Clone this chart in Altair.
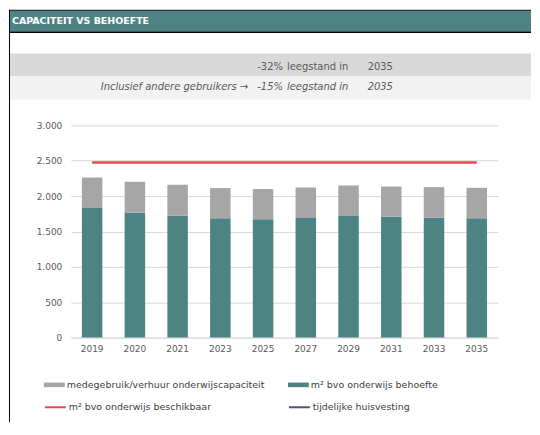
import altair as alt
import pandas as pd

FONT = "DejaVu Sans"

# ---- data ----
jaren = ["2019", "2020", "2021", "2023", "2025", "2027", "2029", "2031", "2033", "2035"]
behoefte = [1831, 1769, 1722, 1685, 1671, 1690, 1718, 1708, 1694, 1685]
medegebruik = [431, 432, 437, 428, 428, 431, 432, 427, 432, 432]
beschikbaar = [2475, 2475, 2475, 2475, 2475, 2475, 2475, 2475, 2475, 2475]
tijdelijk = []  # geen waarden

series = [
    "medegebruik/verhuur onderwijscapaciteit",
    "m² bvo onderwijs behoefte",
    "m² bvo onderwijs beschikbaar",
    "tijdelijke huisvesting",
]
kleuren = ["#a6a6a6", "#4e8384", "#e8474e", "#604a7b"]
y_ticks = [0, 500, 1000, 1500, 2000, 2500, 3000]

titel = "CAPACITEIT VS BEHOEFTE"
rij1 = ["", "-32%", "leegstand in", "2035"]
rij2 = ["Inclusief andere gebruikers →", "-15%", "leegstand in", "2035"]

# ---- tables ----
df_mede = pd.DataFrame({
    "jaar": jaren,
    "onder": behoefte,
    "boven": [b + m for b, m in zip(behoefte, medegebruik)],
    "serie": series[0],
})
df_beh = pd.DataFrame({"jaar": jaren, "waarde": behoefte, "serie": series[1]})
df_besch = pd.DataFrame({"jaar": jaren, "waarde": beschikbaar, "serie": series[2]})
df_tijd = pd.DataFrame({"jaar": pd.Series(tijdelijk, dtype=str),
                        "waarde": pd.Series(tijdelijk, dtype=float),
                        "serie": pd.Series(tijdelijk, dtype=str)})

W, H = 429, 213

xscale = alt.Scale(domain=jaren, paddingInner=0.52, paddingOuter=0.26)
yscale = alt.Scale(domain=[0, 3000])
xaxis = alt.Axis(title=None, labelAngle=0, grid=False, domain=True, domainColor="#d9d9d9",
                 ticks=False, labelPadding=7)
yaxis = alt.Axis(title=None, values=y_ticks, format=",d",
                 labelExpr="replace(datum.label, ',', '.')",
                 grid=True, gridColor="#d9d9d9", domain=False, ticks=False, labelPadding=9)

RECT_PATH = "M-1,-0.22H1V0.22H-1Z"


def legend(x, y, sym):
    kw = dict(orient="none", legendX=x, legendY=y, title=None, padding=0,
              labelFont=FONT, labelFontSize=9.5, labelColor="#404040", labelOffset=2,
              symbolSize=441, labelLimit=400)
    if sym == "rect":
        kw.update(symbolType=RECT_PATH, symbolStrokeWidth=0)
    else:
        kw.update(symbolType="stroke", symbolStrokeWidth=2)
    return alt.Legend(**kw)


def one(value):
    return pd.DataFrame({"t": [value]})


def txt(value, x, y, align="left", style="normal", size=10, color="#595959", weight="normal"):
    return alt.Chart(one(value)).mark_text(
        align=align, baseline="middle", font=FONT, fontSize=size,
        fontStyle=style, fontWeight=weight, color=color
    ).encode(x=alt.value(x), y=alt.value(y), text="t:N")


def rect(x1, x2, y1, y2, color):
    return alt.Chart(one(0)).mark_rect(color=color).encode(
        x=alt.value(x1), x2=alt.value(x2), y=alt.value(y1), y2=alt.value(y2))


def hrule(x1, x2, y, width=1, color="black"):
    return alt.Chart(one(0)).mark_rule(color=color, strokeWidth=width).encode(
        x=alt.value(x1), x2=alt.value(x2), y=alt.value(y))


def vrule(x, y1, y2, width=1, color="black"):
    return alt.Chart(one(0)).mark_rule(color=color, strokeWidth=width).encode(
        x=alt.value(x), y=alt.value(y1), y2=alt.value(y2))


RIGHT = 462
decor = [
    rect(-61, RIGHT, -115, -94, "#4e8384"),
    hrule(-62, RIGHT, -115.5, 1),
    hrule(-62, RIGHT, -93.5, 1.5),
    vrule(-61.5, -116, 298, 1),
    rect(-61, RIGHT, -72, -49, "#d9d9d9"),
    rect(-61, RIGHT, -49, -26, "#f2f2f2"),
    txt(titel, -59, -105, size=9.5, color="white", weight="bold"),
    txt(rij1[1], 213, -59, align="right"),
    txt(rij1[2], 217, -59),
    txt(rij1[3], 298, -59),
    txt(rij2[0], 178, -38, align="right", style="italic"),
    txt(rij2[1], 213, -38, align="right", style="italic"),
    txt(rij2[2], 217, -38, style="italic"),
    txt(rij2[3], 298, -38, style="italic"),
]

bars_beh = alt.Chart(df_beh).mark_bar(color=kleuren[1]).encode(
    x=alt.X("jaar:O", scale=xscale, axis=xaxis, sort=jaren),
    y=alt.Y("waarde:Q", scale=yscale, axis=yaxis),
    color=alt.Color("serie:N", scale=alt.Scale(domain=[series[1]], range=[kleuren[1]]),
                    legend=legend(218, 250, "rect")),
)

bars_mede = alt.Chart(df_mede).mark_bar().encode(
    x=alt.X("jaar:O", scale=xscale, axis=xaxis, sort=jaren),
    y=alt.Y("boven:Q", scale=yscale, axis=yaxis),
    y2="onder:Q",
    color=alt.Color("serie:N", scale=alt.Scale(domain=[series[0]], range=[kleuren[0]]),
                    legend=legend(-27, 250, "rect")),
)

line_besch = alt.Chart(df_besch).mark_line(strokeWidth=2.5).encode(
    x=alt.X("jaar:O", scale=xscale, axis=xaxis, sort=jaren),
    y=alt.Y("waarde:Q", scale=yscale, axis=yaxis),
    color=alt.Color("serie:N", scale=alt.Scale(domain=[series[2]], range=[kleuren[2]]),
                    legend=legend(-27, 271.5, "stroke")),
)

line_tijd = alt.Chart(df_tijd).mark_line(strokeWidth=2.5).encode(
    x=alt.X("jaar:O", scale=xscale, axis=xaxis, sort=jaren),
    y=alt.Y("waarde:Q", scale=yscale, axis=yaxis),
    color=alt.Color("serie:N", scale=alt.Scale(domain=[series[3]], range=[kleuren[3]]),
                    legend=legend(218, 271.5, "stroke")),
)

chart = alt.layer(*decor, bars_beh, bars_mede, line_besch, line_tijd).resolve_scale(
    color="independent"
).properties(
    width=W, height=H, padding=0, background="white"
).configure_view(stroke=None).configure_axis(
    labelFont=FONT, labelFontSize=9, labelColor="#595959"
)

chart.save("out.html", embed_options={"renderer": "svg", "actions": False})
